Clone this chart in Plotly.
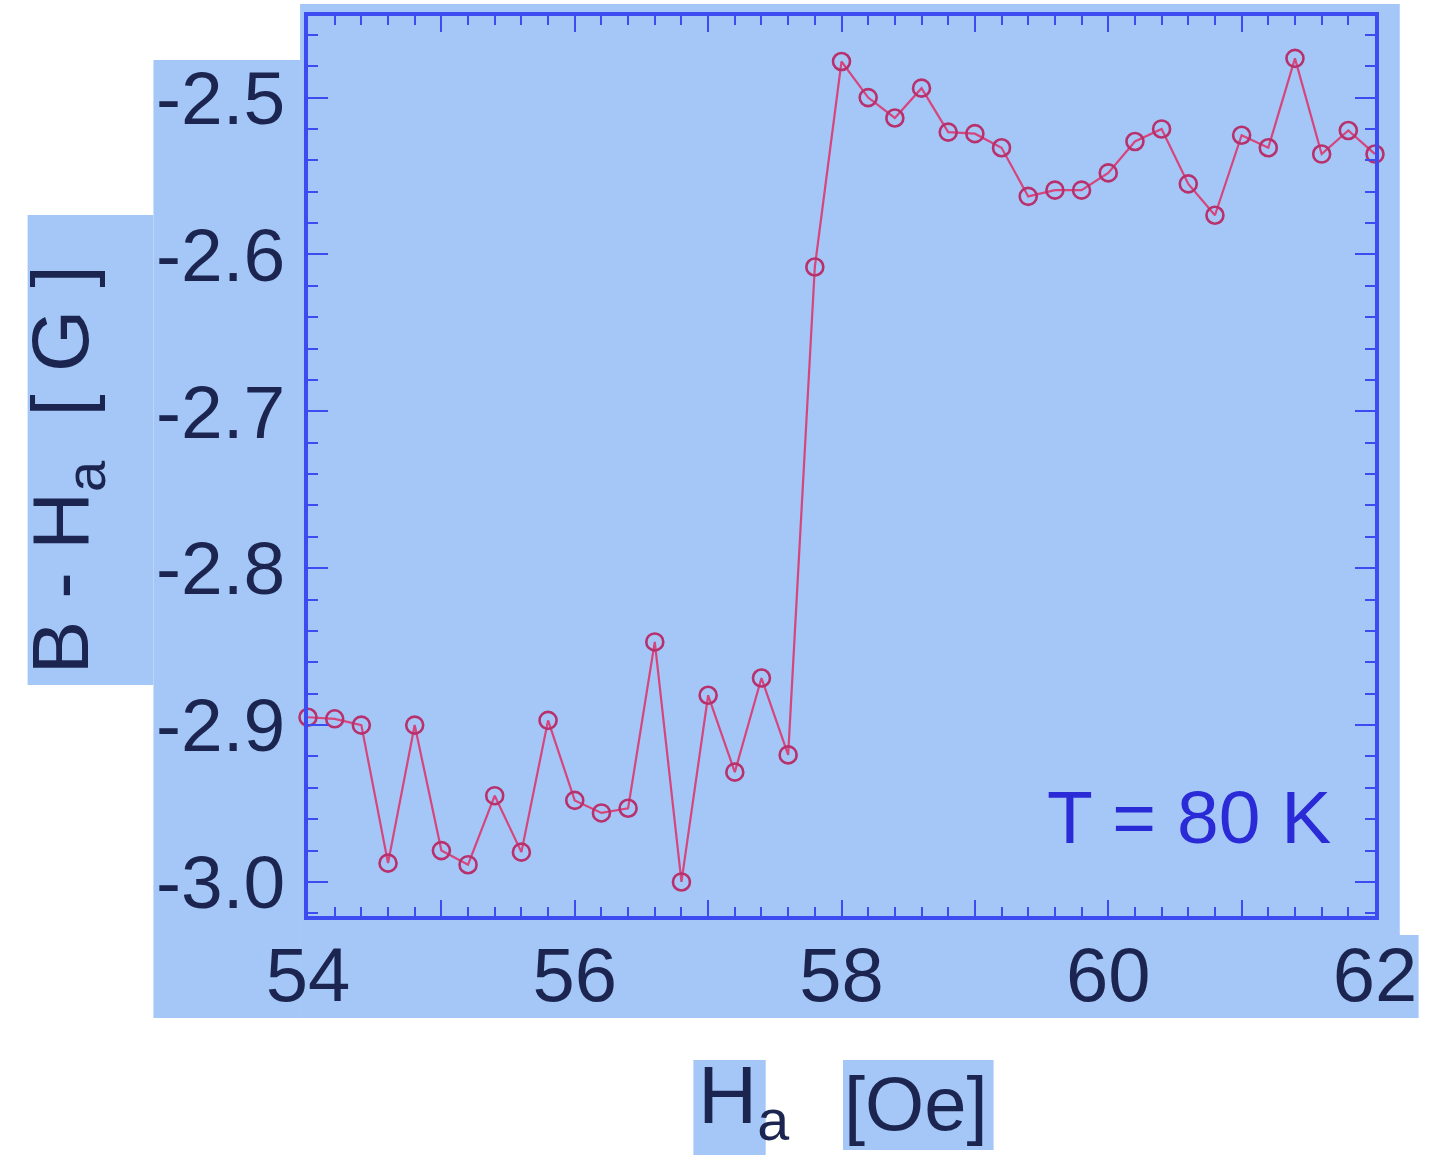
import plotly.graph_objects as go

# ---- data ----
field_oe = [54.0, 54.2, 54.4, 54.6, 54.8, 55.0, 55.2, 55.4, 55.6, 55.8,
            56.0, 56.2, 56.4, 56.6, 56.8, 57.0, 57.2, 57.4, 57.6, 57.8,
            58.0, 58.2, 58.4, 58.6, 58.8, 59.0, 59.2, 59.4, 59.6, 59.8,
            60.0, 60.2, 60.4, 60.6, 60.8, 61.0, 61.2, 61.4, 61.6, 61.8, 62.0]
b_minus_ha = [-2.895, -2.896, -2.900, -2.988, -2.900, -2.980, -2.989, -2.945, -2.981, -2.897,
              -2.948, -2.956, -2.953, -2.847, -3.000, -2.881, -2.930, -2.870, -2.919, -2.608,
              -2.477, -2.500, -2.513, -2.494, -2.522, -2.523, -2.532, -2.563, -2.559, -2.559,
              -2.548, -2.528, -2.520, -2.555, -2.575, -2.524, -2.532, -2.475, -2.536, -2.521, -2.536]

x_tick_vals = [54, 55, 56, 57, 58, 59, 60, 61, 62]
x_tick_text = ["54", "", "56", "", "58", "", "60", "", "62"]
y_tick_vals = [-2.5, -2.6, -2.7, -2.8, -2.9, -3.0]
y_tick_text = ["-2.5", "-2.6", "-2.7", "-2.8", "-2.9", "-3.0"]

# ---- style ----
W, H = 1429, 1157
L, R, T, B = 308, 1385, 16, 916
BG = "#a4c7f8"
FRAME = "#3c4cf0"
NAVY = "#1c2550"
LINE = "#d6457c"
MARK = "#b8306c"
FONT = "Liberation Sans, Arial, sans-serif"


def px(xp):
    return (xp - L) / (R - L)


def py(yp):
    return (B - yp) / (B - T)


fig = go.Figure()
fig.add_trace(go.Scatter(
    x=field_oe, y=b_minus_ha, mode="lines+markers",
    line=dict(color=LINE, width=2.2),
    marker=dict(symbol="circle-open", size=17, color=MARK, line=dict(width=2.6, color=MARK)),
    cliponaxis=False, showlegend=False,
))

# light-blue patches behind the picture
patches = [
    (300, 4, 1410, 1018),
    (152, 60, 300, 1018),
    (25, 215, 152, 685),
    (1380, 935, 1429, 1018),
    (697, 1060, 770, 1155),
    (848, 1060, 1000, 1150),
]
shapes = []
for x0, y0, x1, y1 in patches:
    shapes.append(dict(type="rect", xref="paper", yref="paper",
                       x0=px(x0), x1=px(x1), y0=py(y1), y1=py(y0),
                       fillcolor=BG, line=dict(width=0), layer="below"))

axis_common = dict(
    showgrid=False, zeroline=False, showline=True, linecolor=FRAME, linewidth=3.5,
    mirror="allticks", ticks="inside", tickcolor=FRAME, tickwidth=2.2,
)

fig.update_layout(
    width=W, height=H,
    margin=dict(l=L, r=W - R, t=T, b=H - B, pad=0),
    paper_bgcolor="white", plot_bgcolor=BG,
    shapes=shapes,
    xaxis=dict(range=[54, 62], tickmode="array", tickvals=x_tick_vals, ticktext=x_tick_text,
               ticklen=16, ticklabelstandoff=-10,
               tickfont=dict(family=FONT, size=76, color=NAVY),
               minor=dict(dtick=0.2, ticks="inside", ticklen=9, tickcolor=FRAME, tickwidth=2),
               **axis_common),
    yaxis=dict(range=[-3.0217, -2.448], tickmode="array", tickvals=y_tick_vals, ticktext=y_tick_text,
               ticklen=20, ticklabelstandoff=4,
               tickfont=dict(family=FONT, size=75, color=NAVY),
               minor=dict(dtick=0.02, ticks="inside", ticklen=10, tickcolor=FRAME, tickwidth=2),
               **axis_common),
    annotations=[
        dict(text="T = 80 K", xref="paper", yref="paper", x=px(1197), y=py(817),
             xanchor="center", yanchor="middle", showarrow=False,
             font=dict(family=FONT, size=75, color="#2a2ad6")),
        dict(text="H<sub>a</sub>", xref="paper", yref="paper", x=px(700), y=py(1100),
             xanchor="left", yanchor="middle", showarrow=False,
             font=dict(family=FONT, size=82, color=NAVY)),
        dict(text="[Oe]", xref="paper", yref="paper", x=px(922), y=py(1103),
             xanchor="center", yanchor="middle", showarrow=False,
             font=dict(family=FONT, size=76, color=NAVY)),
        dict(text="B - H<sub>a</sub>  [ G ]", xref="paper", yref="paper", x=px(64), y=py(470),
             xanchor="center", yanchor="middle", showarrow=False, textangle=-90,
             font=dict(family=FONT, size=80, color=NAVY)),
    ],
)

fig.write_html("out.html")
